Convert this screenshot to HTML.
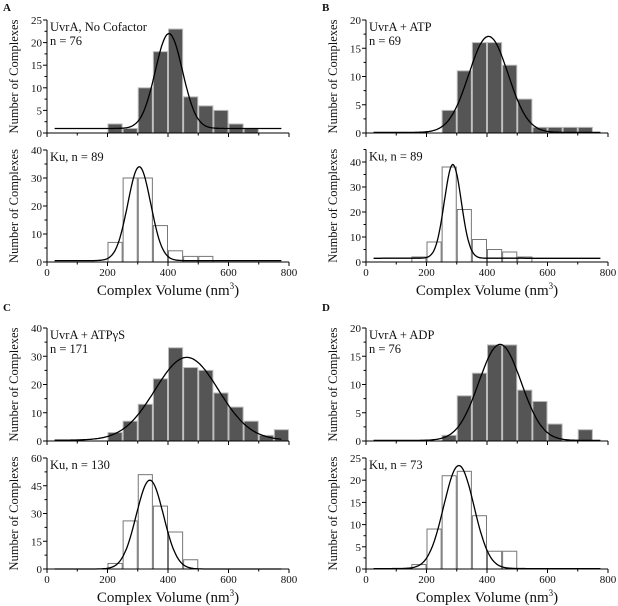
<!DOCTYPE html>
<html><head><meta charset="utf-8"><style>
html,body{margin:0;padding:0;background:#fff}
svg{display:block}
text{font-family:"Liberation Serif",serif;fill:#111}
</style></head><body>
<svg id="fig" width="618" height="606" viewBox="0 0 618 606" xmlns="http://www.w3.org/2000/svg"></svg>
<script>
// ---- data ----
const binWidth = 50;
const aTopStart = 200, aTopCounts = [2,1,10,18,23,8,6,5,2,1];
const aTopFit = [1, 21, 403, 45];           // offset, amplitude, mean, sigma
const aBotStart = 200, aBotCounts = [7,30,30,13,4,2,2];
const aBotFit = [0.5, 33.5, 305, 38];
const bTopStart = 250, bTopCounts = [4,11,16,16,12,6,1,1,1,1];
const bTopFit = [0.1, 17, 405, 65];
const bBotStart = 150, bBotCounts = [2,8,38,21,9,5,4,2];
const bBotFit = [1.5, 37.5, 287, 28];
const cTopStart = 200, cTopCounts = [3,7,13,22,33,26,25,17,12,7,2,4];
const cTopFit = [0.3, 29.3, 462, 105];
const cBotStart = 200, cBotCounts = [3,26,51,34,20,5];
const cBotFit = [0, 48, 340, 45];
const dTopStart = 250, dTopCounts = [1,8,12,17,17,9,7,3,0,2];
const dTopFit = [0.1, 17, 443, 70];
const dBotStart = 150, dBotCounts = [1,9,21,22,12,4,4];
const dBotFit = [0.1, 23.2, 307, 50];
const xTicks = [0,200,400,600,800];
const aTopYTicks=[0,5,10,15,20,25], aBotYTicks=[0,10,20,30,40];
const bTopYTicks=[0,5,10,15,20], bBotYTicks=[0,10,20,30,40];
const cTopYTicks=[0,10,20,30,40], cBotYTicks=[0,15,30,45,60];
const dTopYTicks=[0,5,10,15,20], dBotYTicks=[0,5,10,15,20,25];

const NS="http://www.w3.org/2000/svg";
const svg=document.getElementById('fig');
function mk(tag,attrs,parent){const e=document.createElementNS(NS,tag);for(const k in attrs)e.setAttribute(k,attrs[k]);(parent||svg).appendChild(e);return e;}

function plot(o){
  const g=mk('g',{});
  
  
  const sx=v=>o.x0+(v/800)*(o.x1-o.x0);
  const sy=v=>o.y0-(v/o.ymax)*(o.y0-o.ytop);
  // bars
  o.counts.forEach((c,i)=>{
    if(c<=0) return;
    const a=o.start+i*binWidth;
    const r=mk('rect',{x:sx(a)+0.5,y:sy(c),width:sx(a+binWidth)-sx(a)-1,height:o.y0-sy(c),
      fill:o.filled?'#555':'#fff',stroke:o.filled?'#bbb':'#777','stroke-width':1},g);
    
    
  });
  // fit curve
  const [y0,A,mu,s]=o.fit;let d='';
  for(let v=25;v<=775;v+=3){const y=y0+A*Math.exp(-((v-mu)**2)/(2*s*s));d+=(d?'L':'M')+sx(v).toFixed(1)+','+sy(y).toFixed(1);}
  const p=mk('path',{d:d,fill:'none',stroke:'#000','stroke-width':1.3},g);
  
  
  // axes
  mk('line',{x1:o.x0,y1:o.y0,x2:o.x1,y2:o.y0,stroke:'#000','stroke-width':1},g);
  mk('line',{x1:o.x0,y1:o.y0,x2:o.x0,y2:o.ytop,stroke:'#000','stroke-width':1},g);
  for(let v=0;v<=800;v+=100){const big=v%200===0;mk('line',{x1:sx(v),y1:o.y0,x2:sx(v),y2:o.y0+(big?4:2.5),stroke:'#000'},g);}
  if(o.xlabels) xTicks.forEach(v=>{const t=mk('text',{x:sx(v),y:o.y0+14,'text-anchor':'middle','font-size':11},g);t.textContent=v;});
  const yt=o.yticks;const step=yt[1]-yt[0];
  for(let v=0;v<=o.ymax+1e-9;v+=step/2){const big=Math.abs(v/step-Math.round(v/step))<1e-6;mk('line',{x1:o.x0,y1:sy(v),x2:o.x0-(big?4:2.5),y2:sy(v),stroke:'#000'},g);}
  yt.forEach(v=>{const t=mk('text',{x:o.x0-5,y:sy(v)+4,'text-anchor':'end','font-size':11},g);t.textContent=v;});
  const yt2=mk('text',{x:0,y:0,'text-anchor':'middle','font-size':12.5,transform:`translate(${o.x0-29},${(o.y0+o.ytop)/2}) rotate(-90)`},g);
  yt2.textContent='Number of Complexes';
  
  
  o.notes.forEach((n,i)=>{const t=mk('text',{x:o.x0+3,y:o.ytop+11+i*14,'font-size':12.5},g);t.textContent=n;
    
    });
}
function panel(letter,px,py,top,bot){
  const L=mk('text',{x:px+3,y:py+11,'font-size':11,'font-weight':'bold'});L.textContent=letter;
  
  
  const x0=px+47,x1=px+289;
  plot(Object.assign({x0,x1,filled:true,xlabels:false},top));
  plot(Object.assign({x0,x1,filled:false,xlabels:true},bot));
  const xl=mk('text',{x:(x0+x1)/2,y:bot.y0+33,'text-anchor':'middle','font-size':15});
  xl.innerHTML='Complex Volume (nm<tspan dy="-6" font-size="9">3</tspan><tspan dy="6">)</tspan>';
  
  
}
panel('A',0,0,
 {name:'uvra-no-cofactor-histogram',start:aTopStart,counts:aTopCounts,fit:aTopFit,ymax:25,yticks:aTopYTicks,y0:133,ytop:20,notes:['UvrA, No Cofactor','n = 76']},
 {name:'ku-histogram-a',start:aBotStart,counts:aBotCounts,fit:aBotFit,ymax:40,yticks:aBotYTicks,y0:262,ytop:150,notes:['Ku, n = 89']});
panel('B',319,0,
 {name:'uvra-atp-histogram',start:bTopStart,counts:bTopCounts,fit:bTopFit,ymax:20,yticks:bTopYTicks,y0:133,ytop:20,notes:['UvrA + ATP','n = 69']},
 {name:'ku-histogram-b',start:bBotStart,counts:bBotCounts,fit:bBotFit,ymax:45,yticks:bBotYTicks,y0:262,ytop:149.5,notes:['Ku, n = 89']});
panel('C',0,300,
 {name:'uvra-atpgs-histogram',start:cTopStart,counts:cTopCounts,fit:cTopFit,ymax:40,yticks:cTopYTicks,y0:441,ytop:328,notes:['UvrA + ATPγS','n = 171']},
 {name:'ku-histogram-c',start:cBotStart,counts:cBotCounts,fit:cBotFit,ymax:60,yticks:cBotYTicks,y0:569,ytop:458,notes:['Ku, n = 130']});
panel('D',319,300,
 {name:'uvra-adp-histogram',start:dTopStart,counts:dTopCounts,fit:dTopFit,ymax:20,yticks:dTopYTicks,y0:441,ytop:328,notes:['UvrA + ADP','n = 76']},
 {name:'ku-histogram-d',start:dBotStart,counts:dBotCounts,fit:dBotFit,ymax:25,yticks:dBotYTicks,y0:569,ytop:458,notes:['Ku, n = 73']});
</script>
</body></html>
